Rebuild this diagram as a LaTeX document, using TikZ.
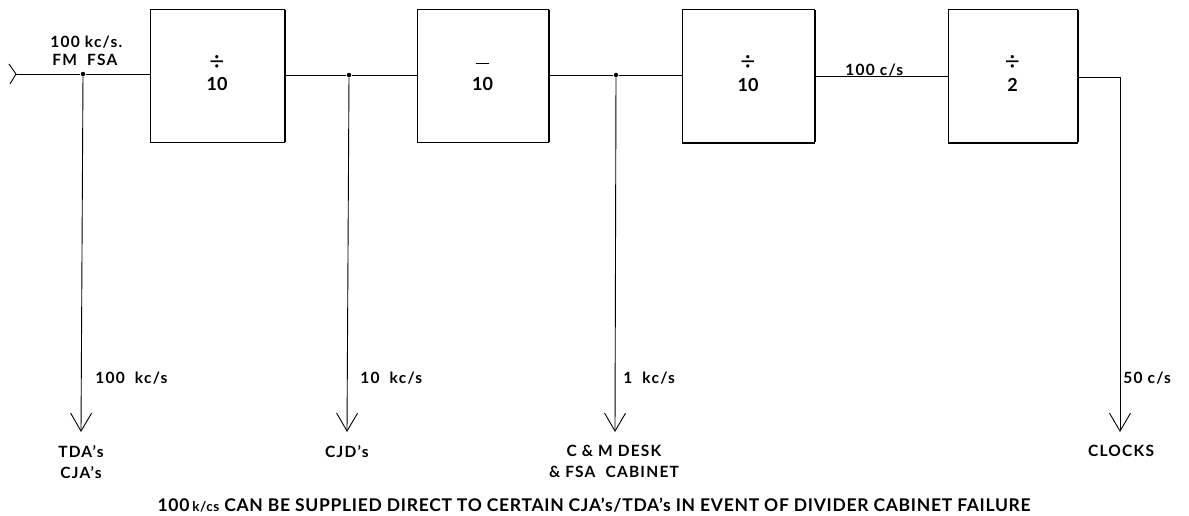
\documentclass[tikz,border=0pt]{standalone}
\usepackage{fontspec}
\setmainfont{Lato}
\usetikzlibrary{arrows.meta}
\begin{document}
\begin{tikzpicture}[x=1pt,y=-1pt, line width=0.9pt,
  box/.style={draw, line width=1pt, minimum width=#1, minimum height=133pt, inner sep=0pt},
  lbl/.style={font=\fontsize{15.5}{18}\selectfont\bfseries\addfontfeatures{LetterSpace=8}, inner sep=0pt, align=center},
  boxtxt/.style={font=\fontsize{18}{20}\selectfont\bfseries, inner sep=0pt},
  divtxt/.style={font=\fontsize{26}{28}\selectfont, inner sep=0pt},
  tip/.style={-{Straight Barb[length=18pt,width=21pt,line width=0.9pt]}},
  jdot/.style={circle, fill, inner sep=0pt, minimum size=4.5pt}]
\useasboundingbox (0,0) rectangle (1189,515);
% boxes
\node[box=134pt] (b1) at (217,75.5) {};
\node[box=131pt] (b2) at (482.5,75.5) {};
\node[box=132pt] (b3) at (748,76) {};
\node[box=129pt] (b4) at (1012.5,76) {};
\foreach \b in {b1,b2,b3,b4}{
  \draw[line width=2pt] ([yshift=-1pt]\b.north east) -- ([yshift=1pt]\b.south east);
  \draw[line width=1.6pt] (\b.south west) -- (\b.south east);
}
\foreach \b/\n in {b1/10,b3/10,b4/2}{
  \node[divtxt] (\b d) at ([yshift=12.5pt]\b.center) {÷};
  \node[boxtxt] (\b n) at ([yshift=-8.5pt]\b.center) {\n};
}
\node[boxtxt] (b2d) at ([yshift=12pt]b2.center) {\rule{13pt}{1.2pt}};
\node[boxtxt] (b2n) at ([yshift=-8.5pt]b2.center) {10};
% input
\coordinate (in) at (16,74);
\draw (in) -- ++(-7,-10);
\draw (in) -- ++(-6,10);
\node[jdot] (j1) at (83,74) {};
\node[jdot] (j2) at (349,75) {};
\node[jdot] (j3) at (616,75) {};
\draw (in) -- (j1) -- (b1.west |- j1);
\draw (b1.east |- j2) -- (j2) -- (b2.west |- j2);
\draw (b2.east |- j3) -- (j3) -- (b3.west |- j3);
\coordinate (c4) at (1120,77);
\draw (b3.east |- 0,76) -- (b4.west |- 0,76);
\draw (b4.east |- c4) -- (c4);
% outputs
\coordinate (e1) at (81,432);
\coordinate (e2) at (347,432);
\coordinate (e3) at (615,432);
\coordinate (e4) at (1120,432);
\draw[tip] (j1) -- (e1);
\draw[tip] (j2) -- (e2);
\draw[tip] (j3) -- (e3);
\draw[tip] (c4) -- (e4);
% labels
\node[lbl, anchor=west] (l0a) at (50,42) {100 kc/s.};
\node[lbl, anchor=west] (l0b) at (52,60) {FM\ \ FSA};
\node[lbl, anchor=west] (l34) at (845,70) {100 c/s};
\node[lbl, anchor=west] (l1) at (95,378) {100\ \ kc/s};
\node[lbl, anchor=west] (l2) at (360,378) {10\ \ kc/s};
\node[lbl, anchor=west] (l3) at (623,378) {1\ \ kc/s};
\node[lbl, anchor=west] (l4) at (1123,378) {50 c/s};
\node[lbl, anchor=north] (t1) at (81,445) {TDA's\\[3pt]CJA's};
\node[lbl, anchor=north] (t2) at (347,445) {CJD's};
\node[lbl, anchor=north] (t3) at (614,445) {C \& M DESK\\[3pt]\& FSA\ \ CABINET};
\node[lbl, anchor=north] (t4) at (1121,445) {CLOCKS};
\node[font=\fontsize{17.5}{20}\selectfont\bfseries\addfontfeatures{LetterSpace=4}, inner sep=0pt] (note) at (594,505) {100\,{\fontsize{13.5}{15}\selectfont k/cs} CAN BE SUPPLIED DIRECT TO CERTAIN CJA's/TDA's IN EVENT OF DIVIDER CABINET FAILURE};
\end{tikzpicture}
\end{document}
